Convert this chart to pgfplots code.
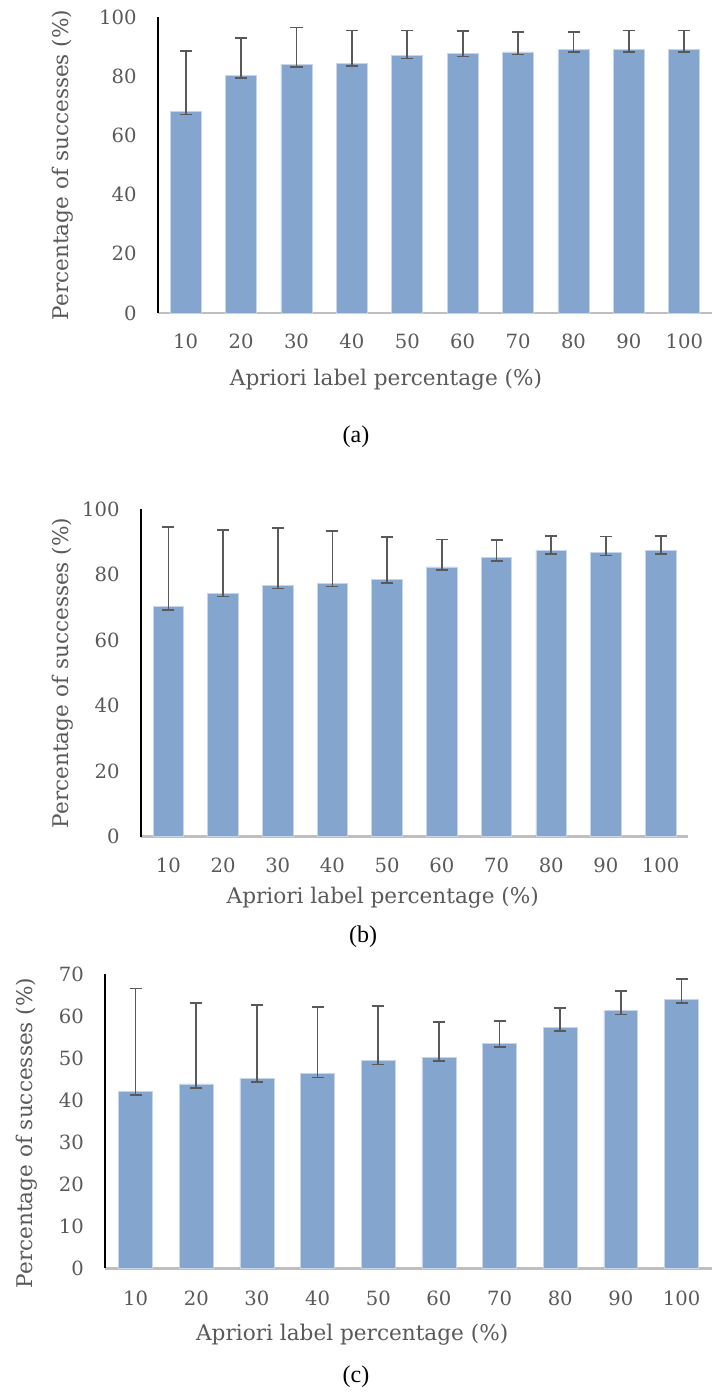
\documentclass[border=0pt]{standalone}
\usepackage{fontspec}
\setmainfont{DejaVu Serif}
\newfontfamily\capfont{Liberation Serif}
\usepackage{pgfplots}
\usepackage{pgfplotstable}
\pgfplotsset{compat=1.18}
\definecolor{barblue}{HTML}{84A6CE}
\definecolor{bardraw}{HTML}{C6D5E9}
\definecolor{errgray}{HTML}{595959}
\definecolor{txtgray}{HTML}{595959}
\definecolor{xaxgray}{HTML}{BFBFBF}

\pgfplotstableread{
x y ep em
1 68.0 20.6 0.9
2 80.4 12.4 0.9
3 84.1 12.3 0.9
4 84.4 11.0 0.9
5 86.9 8.5 0.9
6 87.6 7.6 0.9
7 88.2 6.7 0.9
8 89.0 5.9 0.9
9 89.0 6.4 0.9
10 89.1 6.3 0.9
}\dataA

\pgfplotstableread{
x y ep em
1 70.2 24.3 1.0
2 74.4 19.3 1.0
3 76.8 17.4 1.0
4 77.4 16.0 1.0
5 78.5 13.1 1.0
6 82.4 8.4 1.0
7 85.3 5.3 1.0
8 87.4 4.5 1.0
9 86.9 4.8 1.0
10 87.3 4.6 1.0
}\dataB

\pgfplotstableread{
x y ep em
1 42.2 24.4 0.9
2 43.9 19.3 0.9
3 45.3 17.4 0.9
4 46.3 15.9 0.9
5 49.4 13.1 0.9
6 50.3 8.4 0.9
7 53.6 5.3 0.9
8 57.4 4.5 0.9
9 61.3 4.7 0.9
10 64.1 4.7 0.9
}\dataC

\pgfplotsset{
  panel/.style={
    scale only axis,
    anchor=south west,
    ybar, bar width=0.56,
    xmin=0.5, xmax=10.5,
    ymin=0,
    axis x line=bottom, axis y line=left,
    x axis line style={draw=xaxgray, line width=1.4pt, -},
    y axis line style={draw=black, line width=0.8pt, -},
    major tick length=0pt,
    xtick={1,...,10},
    xticklabels={10,20,30,40,50,60,70,80,90,100},
    tick label style={font=\fontsize{9.8}{11}\selectfont, text=txtgray},
    /pgf/number format/assume math mode=true,
    yticklabel style={anchor=east, inner sep=0pt, xshift=-10.5pt},
    ylabel={Percentage of successes (\%)},
    xlabel={Apriori label percentage (\%)},
    clip=false,
  },
  every axis x label/.style={font=\fontsize{10.8}{12}\selectfont, text=txtgray, anchor=center},
  every axis y label/.style={font=\fontsize{10.8}{12}\selectfont, text=txtgray, anchor=center, rotate=90},
  bars/.style={fill=barblue, draw=bardraw, line width=0.4pt,
    error bars/.cd, y dir=both, y explicit,
    error bar style={errgray, line width=0.85pt},
    error mark=|,
    error mark options={errgray, line width=0.85pt, mark size=3pt}},
}

\begin{document}
\begin{tikzpicture}
\useasboundingbox (0,0) rectangle (356pt,697pt);

% (a)
\begin{axis}[panel, at={(79pt,540.5pt)}, width=277pt, height=148pt,
  ymax=100, ytick={0,20,...,100},
  xticklabel style={anchor=center, yshift=-14pt},
  x label style={at={(axis description cs:0.4116,-0.2264)}},
  y label style={at={(axis description cs:-0.1715,0.5)}}]
\addplot[bars] table[x=x, y=y, y error plus=ep, y error minus=em] {\dataA};
\end{axis}

% (b)
\begin{axis}[panel, at={(70.5pt,278.65pt)}, width=273.5pt, height=163.7pt,
  ymax=100, ytick={0,20,...,100},
  xticklabel style={anchor=center, yshift=-14.5pt},
  x label style={at={(axis description cs:0.442,-0.1875)}},
  y label style={at={(axis description cs:-0.1426,0.5)}}]
\addplot[bars] table[x=x, y=y, y error plus=ep, y error minus=em] {\dataB};
\end{axis}

% (c)
\begin{axis}[panel, at={(52.65pt,62.85pt)}, width=303.3pt, height=147pt,
  ymax=70, ytick={0,10,...,70},
  xticklabel style={anchor=center, yshift=-15pt},
  x label style={at={(axis description cs:0.407,-0.227)}},
  y label style={at={(axis description cs:-0.129,0.46)}}]
\addplot[bars] table[x=x, y=y, y error plus=ep, y error minus=em] {\dataC};
\end{axis}

\node[font=\capfont\fontsize{12}{14}\selectfont] at (178pt,478.5pt) {(a)};
\node[font=\capfont\fontsize{12}{14}\selectfont] at (181.5pt,228.5pt) {(b)};
\node[font=\capfont\fontsize{12}{14}\selectfont] at (178pt,8.5pt) {(c)};
\end{tikzpicture}
\end{document}
